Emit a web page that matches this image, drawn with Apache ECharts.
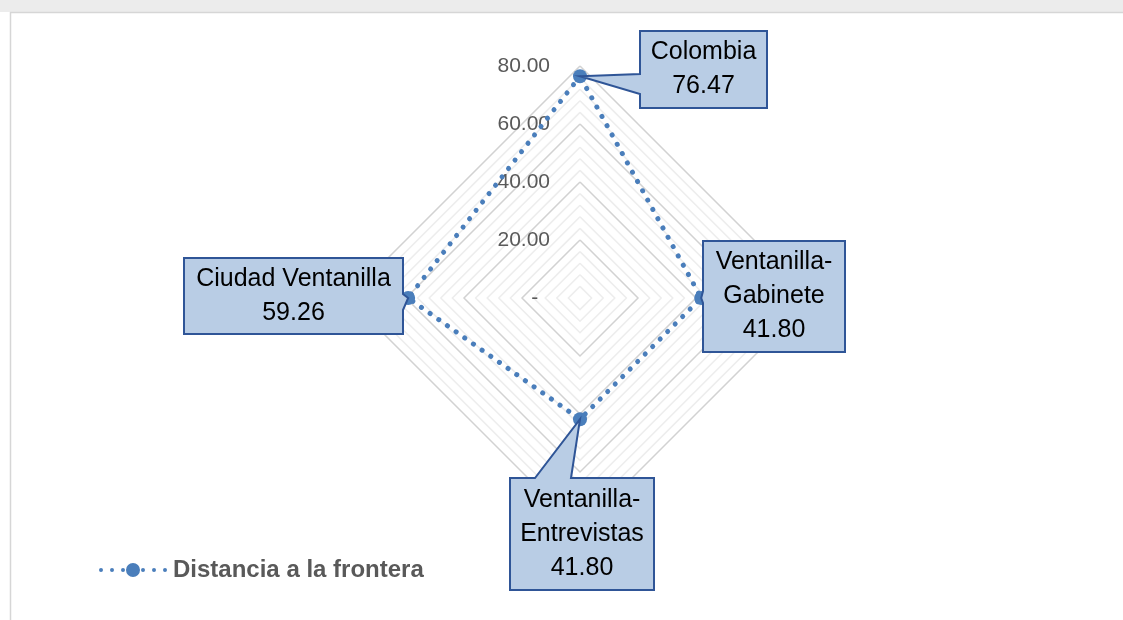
<!DOCTYPE html>
<html>
<head>
<meta charset="utf-8">
<script src="https://cdn.jsdelivr.net/npm/echarts@6/dist/echarts.min.js"></script>
<style>html,body{margin:0;padding:0;background:#fff}#c{width:1123px;height:620px}</style>
</head>
<body>
<div id="c"></div>
<script>
// ---- data ----
const indicators = ['Colombia', 'Ciudad Ventanilla', 'Ventanilla-Entrevistas', 'Ventanilla-Gabinete'];
const labelNames = ['Colombia', 'Ciudad Ventanilla', 'Ventanilla-\nEntrevistas', 'Ventanilla-\nGabinete'];
const values = [76.47, 59.26, 41.80, 41.80];
const seriesName = 'Distancia a la frontera';
const axisMax = 80;
const majorStep = 20;
const minorStep = 4;

// ---- layout ----
const FONT = '"Liberation Sans", Arial, sans-serif';
const BLUE = '#4a7ebb';
const CX = 580, CY = 298, R = 232;
// callout boxes relative to their point: dx, dy (box top-left), w, h, tail side, tail base (b1,b2)
const callouts = [
  { dx: 60, dy: -45, w: 127, h: 77, side: 'left', b1: 43, b2: 63 },
  { dx: -224, dy: -40, w: 219, h: 76, side: 'right', b1: 36, b2: 52 },
  { dx: -70, dy: 59, w: 144, h: 112, side: 'top', b1: 25, b2: 61 },
  { dx: 2, dy: -57, w: 142, h: 111, side: 'left', b1: 50, b2: 62 }
];

const ratio = majorStep / minorStep;
const splitColors = [];
for (let i = 0; i < ratio; i++) splitColors.push(i === 0 ? '#d2d2d2' : '#ededed');

const legendIcon = 'path://M1 7a2 2 0 1 0 4 0a2 2 0 1 0 -4 0ZM12 7a2 2 0 1 0 4 0a2 2 0 1 0 -4 0ZM23 7a2 2 0 1 0 4 0a2 2 0 1 0 -4 0ZM28 7a7 7 0 1 0 14 0a7 7 0 1 0 -14 0ZM43 7a2 2 0 1 0 4 0a2 2 0 1 0 -4 0ZM54 7a2 2 0 1 0 4 0a2 2 0 1 0 -4 0ZM65 7a2 2 0 1 0 4 0a2 2 0 1 0 -4 0Z';

const chart = echarts.init(document.getElementById('c'));
chart.setOption({
  backgroundColor: '#ffffff',
  animation: false,
  legend: {
    left: 94, top: 553,
    itemWidth: 70, itemHeight: 14, itemGap: 5,
    data: [{ name: seriesName, icon: legendIcon }],
    textStyle: { fontFamily: FONT, fontSize: 24, fontWeight: 'bold', color: '#595959' }
  },
  radar: {
    center: [CX, CY],
    radius: R,
    startAngle: 90,
    shape: 'polygon',
    splitNumber: axisMax / minorStep,
    indicator: indicators.map((n, i) => i === 0
      ? { name: n, min: 0, max: axisMax }
      : { name: n, min: 0, max: axisMax, axisLabel: { show: false } }),
    axisName: { show: false },
    axisLine: { show: false },
    axisTick: { show: false },
    splitArea: { show: false },
    splitLine: { lineStyle: { color: splitColors, width: 1.5 } },
    axisLabel: {
      show: true,
      margin: 30,
      fontFamily: FONT,
      fontSize: 21,
      color: '#595959',
      padding: [5, 0, 0, 0],
      formatter: function (v) {
        if (Math.abs(v % majorStep) > 1e-6) return '';
        return v === 0 ? '-\u2007' : v.toFixed(2);
      }
    }
  },
  series: [{
    type: 'radar',
    name: seriesName,
    symbol: 'circle',
    symbolSize: 14,
    itemStyle: { color: BLUE },
    lineStyle: { color: BLUE, width: 5, type: [0.1, 10.5], cap: 'round' },
    data: [{ name: seriesName, value: values }],
    z: 3
  }]
});

const radarCS = chart.getModel().getComponent('radar').coordinateSystem;
const graphics = [
  { type: 'rect', shape: { x: 0, y: 0, width: 1123, height: 12 }, style: { fill: '#ececec' }, z: 0, silent: true },
  { type: 'line', shape: { x1: 10, y1: 12.5, x2: 1123, y2: 12.5 }, style: { stroke: '#d6d6d6', lineWidth: 1.5 }, z: 0, silent: true },
  { type: 'line', shape: { x1: 10.5, y1: 12, x2: 10.5, y2: 620 }, style: { stroke: '#d6d6d6', lineWidth: 1.5 }, z: 0, silent: true }
];
values.forEach(function (v, i) {
  const p = radarCS.dataToPoint(v, i);
  const c = callouts[i];
  const x = Math.round(p[0] + c.dx), y = Math.round(p[1] + c.dy), w = c.w, h = c.h;
  let pts;
  if (c.side === 'left') {
    pts = [[x, y], [x + w, y], [x + w, y + h], [x, y + h], [x, y + c.b2], [p[0], p[1]], [x, y + c.b1]];
  } else if (c.side === 'right') {
    pts = [[x, y], [x + w, y], [x + w, y + c.b1], [p[0], p[1]], [x + w, y + c.b2], [x + w, y + h], [x, y + h]];
  } else {
    pts = [[x, y], [x + c.b1, y], [p[0], p[1]], [x + c.b2, y], [x + w, y], [x + w, y + h], [x, y + h]];
  }
  graphics.push({
    type: 'polygon', z: 10, silent: true,
    shape: { points: pts },
    style: { fill: '#b9cde5', stroke: '#2f5597', lineWidth: 2, lineJoin: 'miter' }
  });
  graphics.push({
    type: 'text', z: 11, silent: true,
    x: x + w / 2, y: y + h / 2,
    style: {
      text: labelNames[i] + '\n' + v.toFixed(2),
      fontFamily: FONT, fontSize: 25, lineHeight: 34,
      fill: '#000000', align: 'center', verticalAlign: 'middle'
    }
  });
});
chart.setOption({ graphic: graphics });
</script>
</body>
</html>
